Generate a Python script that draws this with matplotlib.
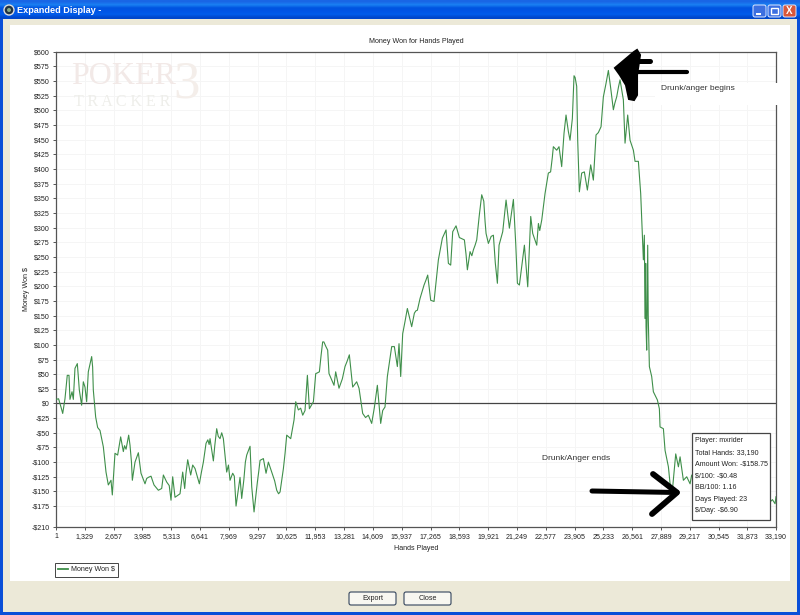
import numpy as np
import matplotlib
matplotlib.use("Agg")
import matplotlib.pyplot as plt
from matplotlib.patches import Rectangle, Polygon, Circle, FancyBboxPatch
from matplotlib.ticker import FuncFormatter

plt.rcParams['font.family'] = ['Liberation Sans', 'DejaVu Sans']

hands = [1,120,230,310,415,520,600,645,740,800,876,984,1076,1183,1260,1337,1414,1490,1645,1721,1829,1921,2029,2183,2306,2413,2536,2597,2720,2843,2982,3105,3230,3351,3412,3520,3643,3797,3919,4104,4258,4381,4519,4719,4873,4950,5103,5303,5380,5487,5718,5841,5933,6072,6210,6302,6410,6609,6794,6917,7101,7255,7408,7562,7716,7869,8023,8146,8300,8484,8561,8792,8946,9023,9130,9284,9407,9560,9683,9791,9945,10175,10329,10483,10636,10820,10974,11051,11174,11374,11589,11681,11866,11973,12142,12293,12524,12585,12816,12893,13046,13323,13523,13677,13861,13969,14138,14399,14553,14814,14968,15167,15275,15475,15598,15736,15813,15890,15982,16197,16397,16520,16659,16781,16966,17135,17273,17427,17627,17811,17980,18088,18195,18288,18441,18595,18826,18964,19087,19241,19395,19625,19825,19932,20163,20347,20424,20593,20747,20900,21085,21192,21270,21362,21592,21746,21884,21976,22161,22238,22392,22543,22696,22927,23081,23188,23311,23419,23511,23618,23695,23803,23880,24003,24049,24126,24233,24356,24495,24648,24771,24894,25125,25232,25463,25570,25693,25847,26001,26154,26231,26354,26462,26616,26692,26846,26953,27076,27122,27150,27184,27199,27230,27276,27300,27353,27460,27537,27722,27814,27845,27999,28076,28230,28337,28429,28568,28691,28768,28921,29075,29229,29305,29700,30300,30900,31500,32100,32600,32917,33025,33148,33190]
money = [7,8,-6,-17,8,48,48,7,20,7,60,68,23,-3,37,28,3,54,80,23,-23,-41,-46,-74,-117,-139,-131,-156,-85,-88,-57,-82,-78,-54,-71,-131,-100,-84,-119,-137,-126,-124,-139,-148,-145,-122,-134,-165,-125,-160,-154,-117,-145,-96,-122,-105,-111,-137,-100,-68,-60,-98,-43,-60,-60,-117,-131,-119,-175,-126,-162,-88,-73,-142,-185,-134,-97,-94,-119,-100,-117,-148,-151,-111,-54,-60,-28,3,-11,-20,48,-9,3,51,54,105,91,51,31,54,26,63,83,28,37,26,-17,-20,-34,31,-34,-6,46,97,97,63,102,46,119,162,131,154,159,179,202,219,176,174,245,282,296,239,236,293,303,283,279,228,259,262,279,356,290,273,287,205,270,293,347,299,348,273,205,202,270,199,319,290,270,307,313,358,393,438,432,438,404,461,492,464,449,486,559,541,449,361,393,395,364,407,381,458,472,523,568,538,501,523,552,518,444,492,449,432,413,413,358,245,287,145,239,131,91,270,150,63,46,20,6,-9,-40,-43,-80,-108,-148,-142,-86,-108,-91,-131,-125,-137,-122,-140,-150,-155,-160,-165,-170,-168,-164,-171,-159]
# further readings between the points above
extra_hands = [1690,5990,6700,7000,7060,8660,8730,9350,10560,12220,12350,12430,16090,17530,19510,19720,19780,22800,22880,23930,25000,25350,3480,3160,4180,4630,5220,5600,7320,7480,7640,7950,8220,10080,10260,11280,11480,12040,13200,13420,14270,14680,15060,16590,17050,18900,19170,19320,20060,20250,21000,21670,22300,25760,25930]
extra_money = [62,-120,-118,-62,-70,-130,-100,-115,-85,82,105,98,140,210,320,345,310,395,420,556,462,545,-100,-72,-128,-144,-140,-157,-72,-56,-50,-105,-124,-132,-154,-8,-12,52,42,72,-24,-6,-12,158,210,255,252,270,285,240,325,235,295,512,540]

order = np.argsort(hands + extra_hands, kind='stable')
all_hands = np.array(hands + extra_hands)[order]
all_money = np.array(money + extra_money)[order]

x_ticks = [1 + 1328*i for i in range(25)] + [33190]
y_ticks = [-210] + list(range(-175, 625, 25))
series_name = "Money Won $"
chart_title = "Money Won for Hands Played"
x_name = "Hands Played"
y_name = "Money Won $"
info_lines = ["Player: mxrider", "Total Hands: 33,190", "Amount Won: -$158.75", "$/100: -$0.48",
              "BB/100: 1.16", "Days Played: 23", "$/Day: -$6.90"]

W, H = 800, 615
fig = plt.figure(figsize=(8, 6.15), dpi=100)

# window chrome, in screen pixels
bg = fig.add_axes([0, 0, 1, 1], zorder=0)
bg.set_xlim(0, W); bg.set_ylim(H, 0); bg.axis('off')
bg.add_patch(Rectangle((0, 0), W, H, fc='#0A4FD8', ec='none'))
cols = np.array([[.1,.4,.9],[.1,.5,.95],[.0,.33,.88],[.0,.33,.9],[.0,.36,.92],[.0,.28,.8]])
bg.imshow(cols[:, None, :], extent=(0, W, 19, 0), aspect='auto', interpolation='bilinear', zorder=1)
bg.set_xlim(0, W); bg.set_ylim(H, 0)
bg.add_patch(Rectangle((3, 19), 794, 593, fc='#ECE9D8', ec='none', zorder=2))
bg.add_patch(Rectangle((10, 25), 780, 556, fc='white', ec='none', zorder=3))
bg.add_patch(Circle((9, 10), 5, fc='#223344', ec='#dddddd', lw=1, zorder=3))
bg.add_patch(Circle((9, 10), 2, fc='#88aa88', ec='none', zorder=4))
bg.text(17, 10.5, "Expanded Display -", color='white', fontsize=6.6, fontweight='bold', va='center', zorder=4)
for x0, c in [(753, '#3C6FE0'), (768, '#3C6FE0'), (783, '#D9573A')]:
    bg.add_patch(FancyBboxPatch((x0, 5), 13, 12, boxstyle='round,pad=0,rounding_size=2', fc=c, ec='#dfe8ff', lw=0.7, zorder=4))
bg.add_patch(Rectangle((756, 13), 5, 2, fc='white', ec='none', zorder=5))
bg.add_patch(Rectangle((771, 8), 7, 6, fc='none', ec='white', lw=1, zorder=5))
bg.text(789.5, 11, "X", color='white', fontsize=7, fontweight='bold', ha='center', va='center', zorder=5)
for x0, w, lab in [(349, 47, "Export"), (404, 47, "Close")]:
    bg.add_patch(FancyBboxPatch((x0, 592), w, 13, boxstyle='round,pad=0,rounding_size=2', fc='#F8F7F1', ec='#33445C', lw=0.8, zorder=4))
    bg.text(x0 + w/2, 598.8, lab, fontsize=5.2, ha='center', va='center', color='#222222', zorder=5)

# chart
L, R, T, B = 56, 776, 51.7, 526.6
ax = fig.add_axes([L/W, 1 - B/H, (R-L)/W, (B-T)/H], zorder=1)
ax.set_facecolor('white')
ax.set_xlim(1, 33190); ax.set_ylim(-210, 600)
ax.set_xticks(x_ticks); ax.set_yticks(y_ticks)
ax.xaxis.set_major_formatter(FuncFormatter(lambda v, p: f"{int(v):,}"))
ax.yaxis.set_major_formatter(FuncFormatter(lambda v, p: f"${int(v)}" if v >= 0 else f"-${int(-v)}"))
ax.tick_params(labelsize=5.1, length=2.2, width=0.7, color='#555555', labelcolor='#222222', pad=2.5)
ax.grid(True, color='#F5F5F5', lw=0.7)
ax.set_axisbelow(True)
for s in ax.spines.values():
    s.set_color('#555555'); s.set_linewidth(0.9)
ax.axhline(0, color='#444444', lw=0.9, zorder=2)
ax.plot(all_hands, all_money, color='#3F8F4A', lw=0.8, label=series_name, zorder=3)
ax.set_title(chart_title, fontsize=5.1, pad=6.5, color='#222222')
ax.set_xlabel(x_name, fontsize=5.1, labelpad=3.5, color='#222222')
ax.set_ylabel(y_name, fontsize=5.1, labelpad=1, color='#222222')
leg = ax.legend(loc='upper left', bbox_to_anchor=(-0.0015, -0.0765), borderaxespad=0, fancybox=False,
                edgecolor='#444444', fontsize=5.1, handlelength=1.3, handletextpad=0.45,
                borderpad=0.5, framealpha=1)
leg.get_frame().set_linewidth(0.7)
for h in leg.get_lines():
    h.set_linewidth(1.3)
for t in leg.get_texts():
    t.set_color('#222222')

# watermark and overlays, in screen pixels
ov = fig.add_axes([0, 0, 1, 1], zorder=2)
ov.set_xlim(0, W); ov.set_ylim(H, 0); ov.axis('off'); ov.patch.set_alpha(0)
ov.text(71, 77, "POKER", family='Liberation Serif', fontsize=23, color='#F2E9E7', va='center', zorder=1)
ov.text(74, 102.5, "T R A C K E R", family='Liberation Serif', fontsize=11.5, color='#EEEEEA', va='center', zorder=1)
ov.text(187, 85, "3", family='Liberation Serif', fontsize=38, color='#F4EEEA', va='center', ha='center', zorder=1)

ov.add_patch(Rectangle((655, 83), 123, 22, fc='white', ec='none', zorder=3))
ov.text(661, 88.5, "Drunk/anger begins", fontsize=6.0, color='#333333', va='center', zorder=4)
ov.text(542, 459, "Drunk/Anger ends", fontsize=6.0, color='#333333', va='center', zorder=4)

arrow1_head = [(615, 68), (634, 52), (637, 50), (640, 55), (637, 75), (637, 95), (634, 100), (629, 99), (626, 85), (620, 75)]
ov.add_patch(Polygon(arrow1_head, closed=True, fc='black', ec='black', lw=1.5, zorder=5))
ov.plot([630, 687], [72, 72], color='black', lw=3, solid_capstyle='round', zorder=5)
ov.plot([638, 650], [61, 61], color='black', lw=3.6, solid_capstyle='round', zorder=5)
ov.plot([592, 677], [491, 492.5], color='black', lw=3.6, solid_capstyle='round', zorder=5)
ov.plot([653, 677, 652], [474, 492.5, 514], color='black', lw=4.2, solid_capstyle='round', solid_joinstyle='round', zorder=5)

ov.add_patch(Rectangle((692.3, 432.7), 77.7, 87.3, fc='white', ec='#444444', lw=0.9, zorder=6))
for i, line in enumerate(info_lines):
    ov.text(695, 440.7 + i*11.7, line, fontsize=5.1, color='#222222', va='center', zorder=7, parse_math=False)

fig.savefig("out.png", dpi=100)
